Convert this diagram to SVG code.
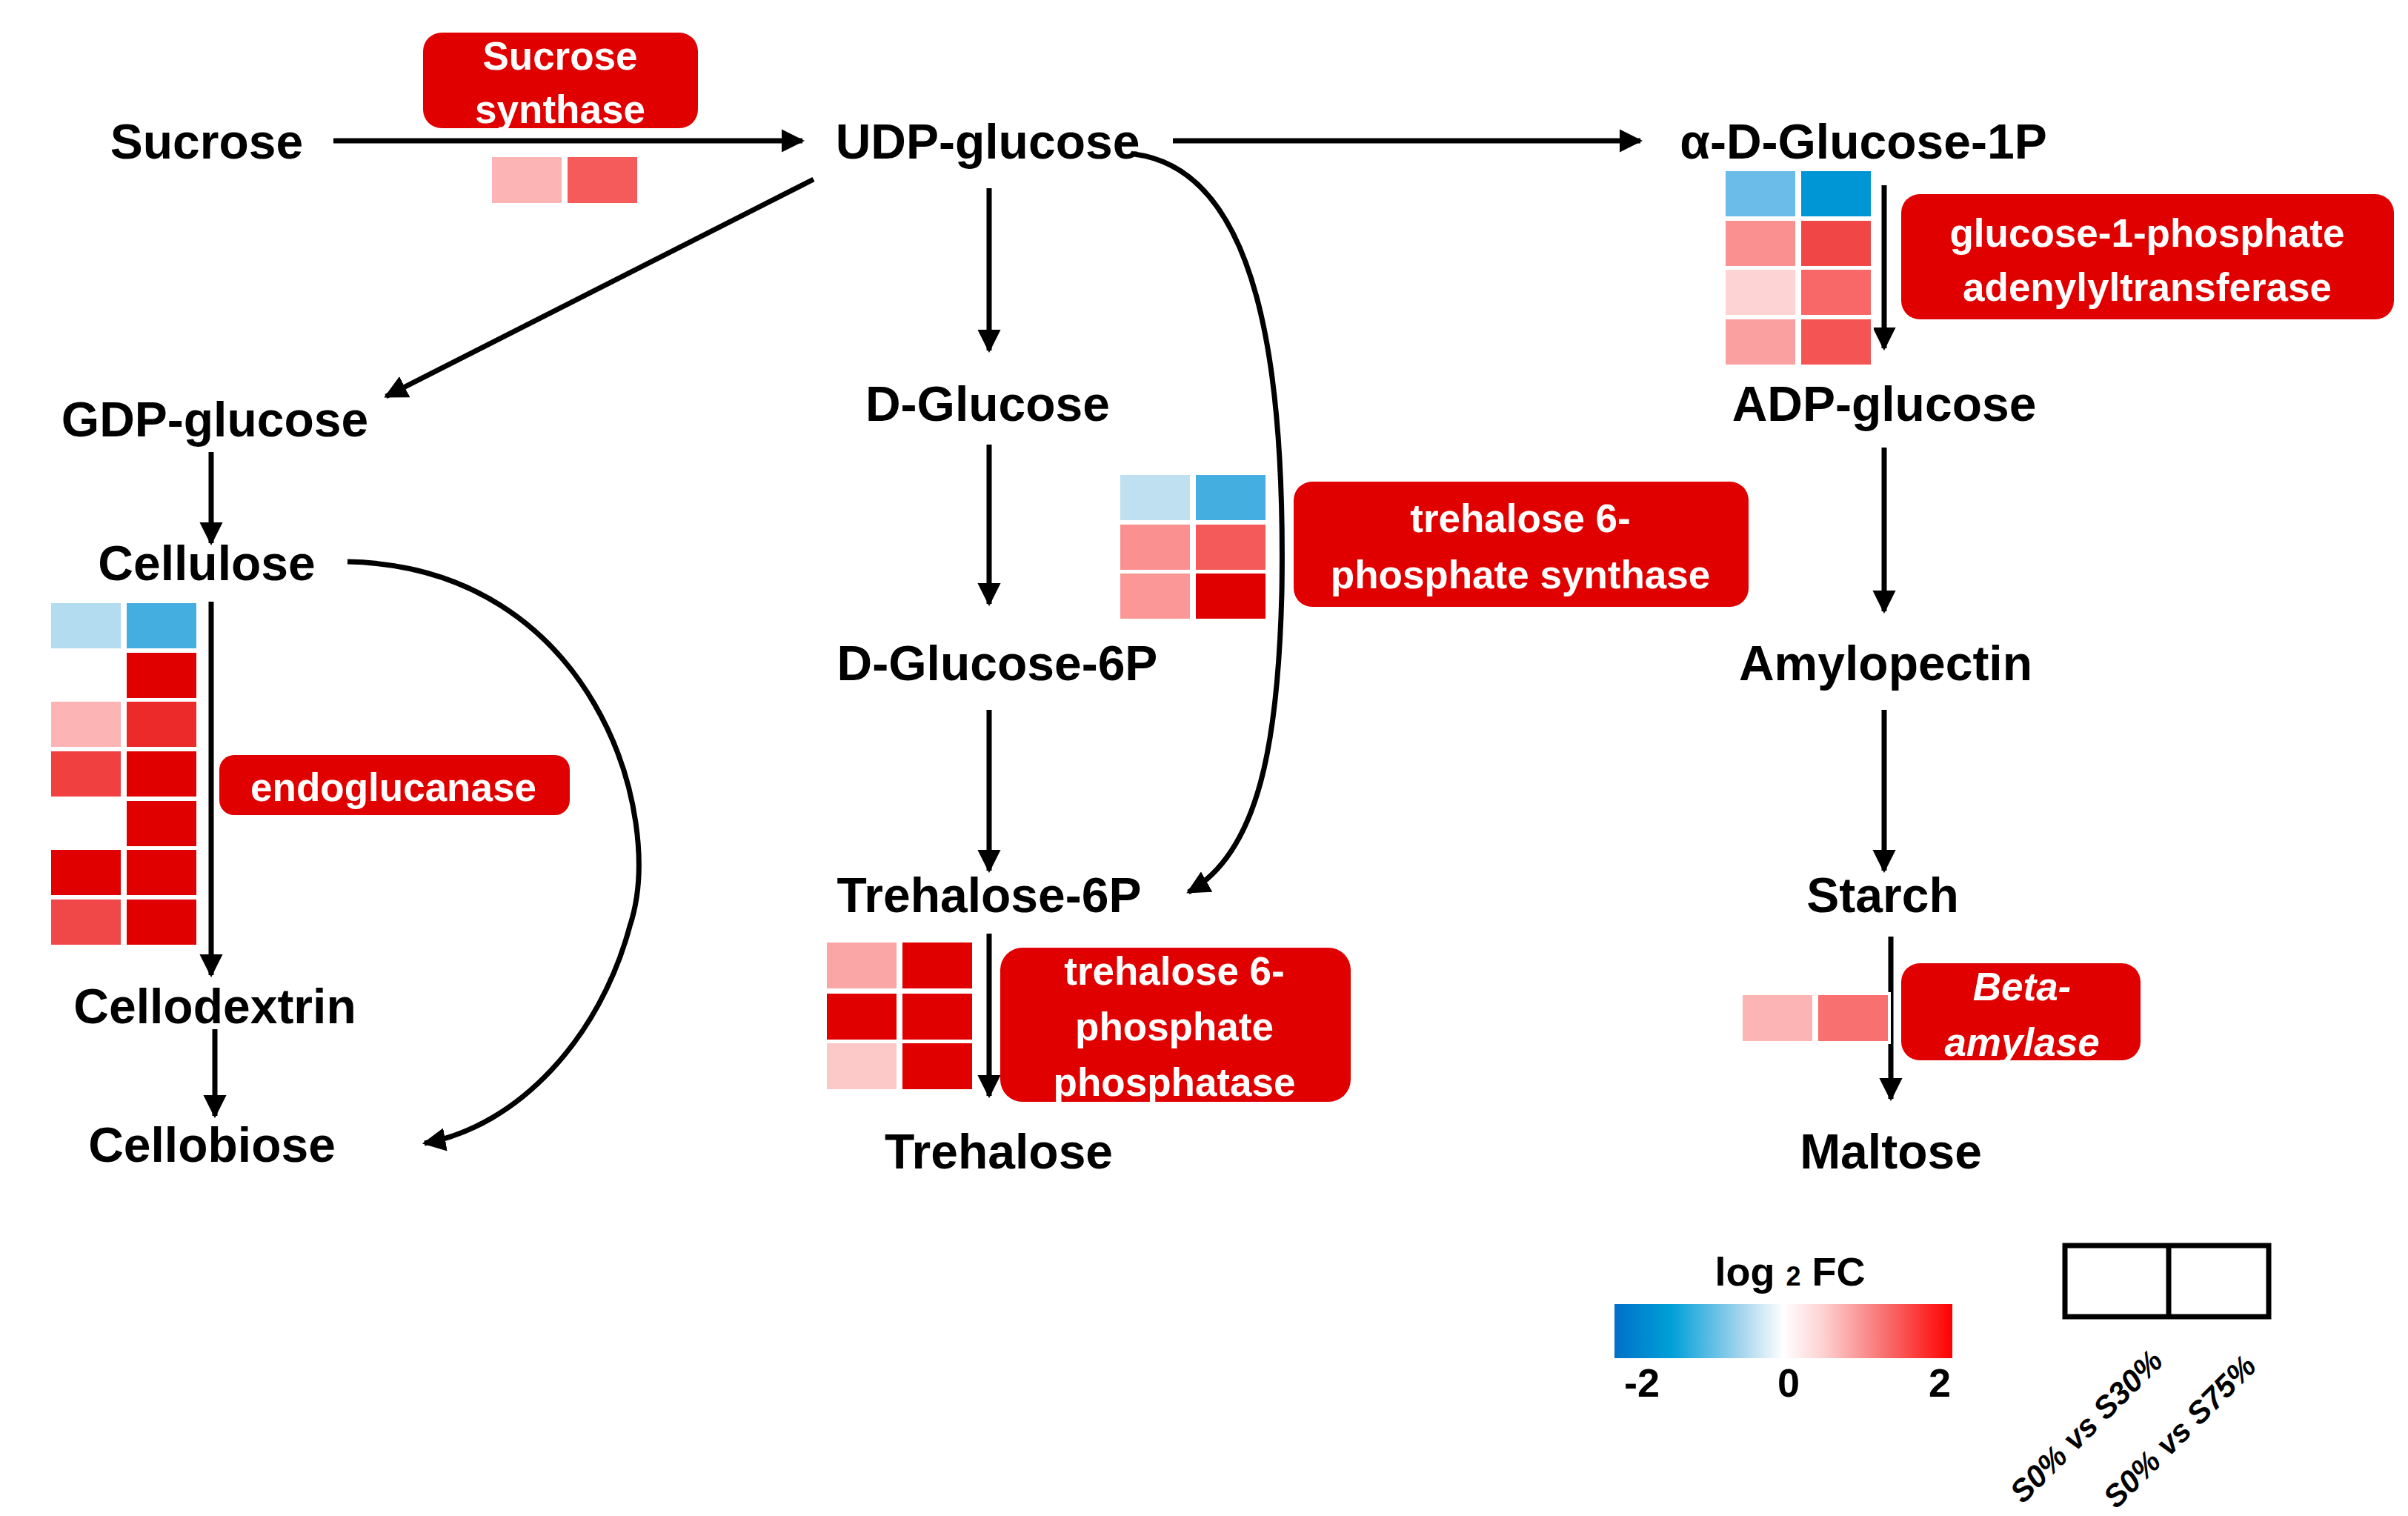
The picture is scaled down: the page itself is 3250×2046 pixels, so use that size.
<svg xmlns="http://www.w3.org/2000/svg" width="3250" height="2046" viewBox="0 0 3250 2046">
<style>
.m{font-family:"Liberation Sans",Arial,sans-serif;font-weight:bold;font-size:66px;fill:#000;text-anchor:middle}
.e{font-family:"Liberation Sans",Arial,sans-serif;font-weight:bold;font-size:53px;fill:#fff;text-anchor:middle}
.box{fill:#E00000}
.c{stroke:#fff;stroke-width:4}
.ln{stroke:#000;stroke-width:7;fill:none;marker-end:url(#ah)}
.lg{font-family:"Liberation Sans",Arial,sans-serif;font-weight:bold;fill:#000;text-anchor:middle}
</style>
<defs>
<marker id="ah" viewBox="0 0 10 10" refX="9" refY="5" markerWidth="4.5" markerHeight="4.5" orient="auto" markerUnits="strokeWidth"><path d="M0,0L10,5L0,10z" fill="#000"/></marker>
<linearGradient id="gr" x1="0" x2="1" y1="0" y2="0">
<stop offset="0" stop-color="#0070C8"/><stop offset="0.17" stop-color="#00A0D8"/><stop offset="0.38" stop-color="#A8D6EE"/><stop offset="0.5" stop-color="#fff"/><stop offset="0.62" stop-color="#FDD0D0"/><stop offset="0.8" stop-color="#F87070"/><stop offset="1" stop-color="#FF0000"/>
</linearGradient>
</defs>
<rect width="3250" height="2046" fill="#fff"/>
<g id="connectors">
<path class="ln" d="M450,190H1083"/>
<path class="ln" d="M1583,190H2214"/>
<path class="ln" d="M1098,242L521,535"/>
<path class="ln" d="M1335,254V473"/>
<path class="ln" d="M1335,600V815"/>
<path class="ln" d="M1335,958V1175"/>
<path class="ln" d="M1335,1260V1479"/>
<path class="ln" d="M285,610V733"/>
<path class="ln" d="M285,812V1316"/>
<path class="ln" d="M290,1389V1506"/>
<path class="ln" d="M469,758C800,765 900,1100 850,1250C810,1400 700,1520 573,1543"/>
<path class="ln" d="M1531,208C1700,230 1735,500 1730,800C1725,1000 1700,1150 1604,1204"/>
<path class="ln" d="M2543,250V470"/>
<path class="ln" d="M2543,604V825"/>
<path class="ln" d="M2543,958V1175"/>
<path class="ln" d="M2552,1264V1483"/>
</g>
<g id="metabolites">
<text class="m" x="279" y="214">Sucrose</text>
<text class="m" x="1333" y="214">UDP-glucose</text>
<text class="m" x="2515" y="214">α-D-Glucose-1P</text>
<text class="m" x="290" y="589">GDP-glucose</text>
<text class="m" x="1333" y="568">D-Glucose</text>
<text class="m" x="2543" y="568">ADP-glucose</text>
<text class="m" x="279" y="783">Cellulose</text>
<text class="m" x="1346" y="918">D-Glucose-6P</text>
<text class="m" x="2545" y="918">Amylopectin</text>
<text class="m" x="1335" y="1231">Trehalose-6P</text>
<text class="m" x="2541" y="1231">Starch</text>
<text class="m" x="290" y="1381">Cellodextrin</text>
<text class="m" x="286" y="1568">Cellobiose</text>
<text class="m" x="1348" y="1577">Trehalose</text>
<text class="m" x="2552" y="1577">Maltose</text>
</g>
<g id="heatmaps" class="c">
<rect x="662" y="210" width="98" height="66" fill="#FDB4B4"/><rect x="764" y="210" width="98" height="66" fill="#F65B5B"/>
<rect x="2327" y="229" width="98" height="65" fill="#6BBCE8"/><rect x="2429" y="229" width="98" height="65" fill="#0096D6"/>
<rect x="2327" y="296" width="98" height="65" fill="#FB9090"/><rect x="2429" y="296" width="98" height="65" fill="#F04646"/>
<rect x="2327" y="362" width="98" height="65" fill="#FDD3D3"/><rect x="2429" y="362" width="98" height="65" fill="#F86868"/>
<rect x="2327" y="429" width="98" height="65" fill="#FBA0A0"/><rect x="2429" y="429" width="98" height="65" fill="#F55454"/>
<rect x="1510" y="639" width="98" height="65" fill="#BEE0F0"/><rect x="1612" y="639" width="98" height="65" fill="#44AEE0"/>
<rect x="1510" y="706" width="98" height="65" fill="#FB9090"/><rect x="1612" y="706" width="98" height="65" fill="#F45A5A"/>
<rect x="1510" y="772" width="98" height="65" fill="#FB9797"/><rect x="1612" y="772" width="98" height="65" fill="#E00000"/>
<rect x="67" y="812" width="98" height="65" fill="#B4DCF0"/><rect x="169" y="812" width="98" height="65" fill="#44AEE0"/>
<rect x="169" y="879" width="98" height="65" fill="#E00000"/>
<rect x="67" y="945" width="98" height="65" fill="#FDB4B4"/><rect x="169" y="945" width="98" height="65" fill="#EC2A2A"/>
<rect x="67" y="1012" width="98" height="65" fill="#F04040"/><rect x="169" y="1012" width="98" height="65" fill="#E00000"/>
<rect x="169" y="1079" width="98" height="65" fill="#E00000"/>
<rect x="67" y="1145" width="98" height="65" fill="#E00000"/><rect x="169" y="1145" width="98" height="65" fill="#E00000"/>
<rect x="67" y="1212" width="98" height="65" fill="#F04848"/><rect x="169" y="1212" width="98" height="65" fill="#E00000"/>
<rect x="1114" y="1270" width="98" height="66" fill="#FBA6A6"/><rect x="1216" y="1270" width="98" height="66" fill="#E00000"/>
<rect x="1114" y="1339" width="98" height="66" fill="#E00000"/><rect x="1216" y="1339" width="98" height="66" fill="#E00000"/>
<rect x="1114" y="1406" width="98" height="66" fill="#FDC8C8"/><rect x="1216" y="1406" width="98" height="66" fill="#E00000"/>
<rect x="2350" y="1341" width="98" height="66" fill="#FDB4B4"/><rect x="2452" y="1341" width="98" height="66" fill="#F87070"/>
</g>
<g id="enz-sucrose-synthase"><rect class="box" x="571" y="44" width="371" height="129" rx="25"/><text class="e" x="756" y="94">Sucrose</text><text class="e" x="756" y="166">synthase</text></g>
<g id="enz-g1p"><rect class="box" x="2566" y="262" width="665" height="169" rx="25"/><text class="e" x="2898" y="333">glucose-1-phosphate</text><text class="e" x="2898" y="406">adenylyltransferase</text></g>
<g id="enz-t6ps"><rect class="box" x="1746" y="650" width="614" height="169" rx="25"/><text class="e" x="2052" y="718">trehalose 6-</text><text class="e" x="2052" y="794">phosphate synthase</text></g>
<g id="enz-endo"><rect class="box" x="296" y="1019" width="473" height="81" rx="20"/><text class="e" x="531" y="1081">endoglucanase</text></g>
<g id="enz-t6pp"><rect class="box" x="1350" y="1279" width="473" height="208" rx="30"/><text class="e" x="1585" y="1329">trehalose 6-</text><text class="e" x="1585" y="1404">phosphate</text><text class="e" x="1585" y="1479">phosphatase</text></g>
<g id="enz-beta"><rect class="box" x="2566" y="1300" width="323" height="131" rx="25"/><text class="e" x="2729" y="1350" font-style="italic">Beta-</text><text class="e" x="2729" y="1425" font-style="italic">amylase</text></g>
<g id="legend">
<text class="lg" x="2416" y="1735" font-size="54">log <tspan font-size="36">2</tspan> FC</text>
<rect x="2179" y="1760" width="456" height="73" fill="url(#gr)"/>
<text class="lg" x="2216" y="1885" font-size="54">-2</text>
<text class="lg" x="2414" y="1885" font-size="54">0</text>
<text class="lg" x="2618" y="1885" font-size="54">2</text>
<rect x="2787" y="1681" width="275" height="96" fill="none" stroke="#000" stroke-width="7"/>
<line x1="2927" y1="1681" x2="2927" y2="1777" stroke="#000" stroke-width="7"/>
<text class="lg" font-size="42" font-style="italic" transform="translate(2826,1935) rotate(-45)">S0% vs S30%</text>
<text class="lg" font-size="42" font-style="italic" transform="translate(2952,1942) rotate(-45)">S0% vs S75%</text>
</g>
</svg>
